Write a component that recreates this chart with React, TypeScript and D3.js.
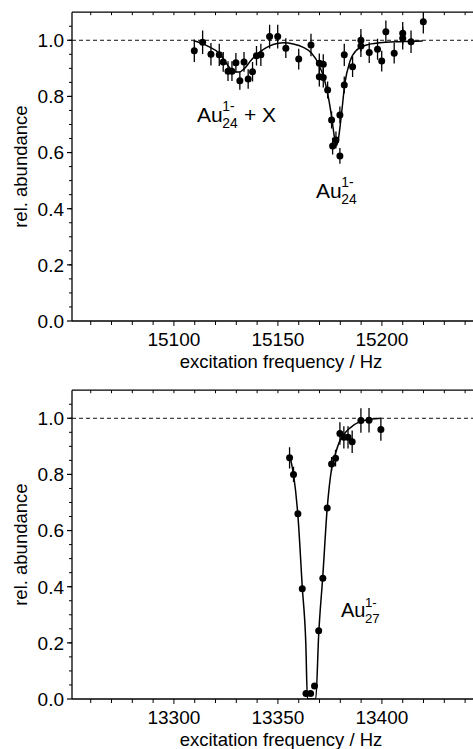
import React from "react";
import * as d3 from "d3";

// ---------- data ----------
// Top panel: Au24(1-)
const topFreq = [
  15109.8, 15113.8, 15117.8, 15121.8, 15123.7, 15126.0, 15127.9, 15129.8, 15131.7, 15133.7,
  15135.7, 15137.8, 15139.7, 15141.8, 15146.0, 15149.9, 15153.8, 15160.0, 15165.9, 15169.9,
  15171.8, 15169.9, 15171.8, 15173.9, 15175.8, 15176.3, 15177.9, 15179.8, 15179.8, 15181.9,
  15181.9, 15185.9, 15189.9, 15189.9, 15193.9, 15197.9, 15199.9, 15201.9, 15205.9, 15210.0,
  15210.0, 15214.0, 15219.9,
];
const topRel = [
  0.963, 0.993, 0.95, 0.948, 0.923, 0.89, 0.89, 0.92, 0.856, 0.923,
  0.862, 0.888, 0.945, 0.948, 1.013, 1.013, 0.972, 0.933, 0.983, 0.918,
  0.915, 0.87, 0.867, 0.823, 0.716, 0.623, 0.645, 0.588, 0.734, 0.841,
  0.948, 0.906, 1.0, 0.98, 0.956, 0.968, 0.926, 1.03, 0.954, 1.025,
  1.007, 0.995, 1.066,
];
const topErr = [
  0.04, 0.042, 0.04, 0.04, 0.035, 0.035, 0.035, 0.035, 0.032, 0.035,
  0.035, 0.035, 0.035, 0.04, 0.042, 0.042, 0.035, 0.037, 0.04, 0.035,
  0.035, 0.035, 0.035, 0.03, 0.03, 0.03, 0.03, 0.028, 0.03, 0.03,
  0.04, 0.037, 0.04, 0.04, 0.037, 0.037, 0.037, 0.04, 0.037, 0.04,
  0.04, 0.04, 0.042,
];
const topFitFreq = [
  15109.6, 15116.0, 15122.0, 15126.5, 15129.0, 15131.5, 15134.0, 15137.0, 15140.0, 15143.8,
  15147.7, 15152.5, 15157.4, 15162.2, 15166.2, 15169.4, 15172.6, 15174.2, 15175.8, 15177.4,
  15178.2, 15179.0, 15180.6, 15182.2, 15184.6, 15187.8, 15192.6, 15199.0, 15208.7, 15219.6,
];
const topFitRel = [
  0.998, 0.98, 0.952, 0.905, 0.888, 0.887, 0.9, 0.928, 0.95, 0.971,
  0.985, 0.991, 0.987, 0.975, 0.954, 0.918, 0.853, 0.799, 0.728, 0.645,
  0.625, 0.645, 0.74, 0.847, 0.924, 0.965, 0.983, 0.991, 0.995, 0.997,
];

// Bottom panel: Au27(1-)
const bottomFreq = [
  13355.6, 13357.5, 13359.6, 13361.7, 13363.5, 13365.7, 13367.6, 13369.6, 13371.6, 13373.7,
  13375.8, 13377.7, 13379.8, 13381.7, 13383.7, 13385.7, 13389.9, 13393.8, 13399.5,
];
const bottomRel = [
  0.859, 0.8, 0.66, 0.393, 0.02, 0.02, 0.046, 0.243, 0.43, 0.68,
  0.837, 0.858, 0.946, 0.932, 0.932, 0.916, 0.992, 0.993, 0.96,
];
const bottomErr = [
  0.038, 0.027, 0.01, 0.01, 0.01, 0.01, 0.01, 0.01, 0.01, 0.01,
  0.025, 0.03, 0.04, 0.04, 0.04, 0.04, 0.044, 0.044, 0.04,
];
const bottomFitFreq = [
  13355.5, 13357.5, 13359.6, 13361.7, 13363.4, 13364.2, 13368.2, 13369.6, 13371.6, 13373.7,
  13375.8, 13377.7, 13379.5, 13382.0, 13384.6, 13389.4, 13395.0, 13399.5,
];
const bottomFitRel = [
  0.87, 0.8, 0.655, 0.4, 0.2, 0.0, 0.0, 0.23, 0.44, 0.68,
  0.82, 0.875, 0.915, 0.945, 0.965, 0.988, 0.997, 1.0,
];

const topXTickLabels = [15100, 15150, 15200];
const bottomXTickLabels = [13300, 13350, 13400];
const yTickLabels = [0.0, 0.2, 0.4, 0.6, 0.8, 1.0];

// ---------- layout ----------
const W = 473;
const H = 749;
const FONT = "'Liberation Sans', Arial, Helvetica, sans-serif";
const PLOT_LEFT = 72;
const PX_PER_HZ = 2.08;
const SPAN_HZ = 200;

type PanelProps = {
  offsetY: number;
  xStart: number;
  xLabels: number[];
  freq: number[];
  rel: number[];
  err: number[];
  fitFreq: number[];
  fitRel: number[];
  id: string;
  children?: React.ReactNode;
};

function Panel({ offsetY, xStart, xLabels, freq, rel, err, fitFreq, fitRel, id, children }: PanelProps) {
  const yTop = 12.2 + offsetY;
  const yBottom = 321 + offsetY;
  const x = d3
    .scaleLinear()
    .domain([xStart, xStart + SPAN_HZ])
    .range([PLOT_LEFT, PLOT_LEFT + SPAN_HZ * PX_PER_HZ]);
  const y = d3.scaleLinear().domain([0, 1.1]).range([yBottom, yTop]);

  const xMinor = x.ticks(20).filter((t) => x(t) > PLOT_LEFT + 1 && x(t) < W);
  const yMinor = d3.range(0, 21).map((i) => i * 0.05 + 0.05);
  const fmt = d3.format(".1f");

  const fit = d3
    .line<number>()
    .x((_, i) => x(fitFreq[i]))
    .y((_, i) => y(fitRel[i]))
    .curve(d3.curveMonotoneX)(fitFreq);

  return (
    <g>
      <defs>
        <clipPath id={id}>
          <rect x={PLOT_LEFT} y={yTop} width={W - PLOT_LEFT} height={yBottom - yTop} />
        </clipPath>
      </defs>
      {/* reference line at 1.0 */}
      <line
        x1={PLOT_LEFT}
        x2={W}
        y1={y(1)}
        y2={y(1)}
        stroke="#111"
        strokeWidth={1}
        strokeDasharray="4,3"
      />
      <g clipPath={`url(#${id})`}>
        <path d={fit || ""} fill="none" stroke="#000" strokeWidth={1.5} />
        {freq.map((f, i) => (
          <line
            key={"e" + i}
            x1={x(f)}
            x2={x(f)}
            y1={y(rel[i] - err[i])}
            y2={y(rel[i] + err[i])}
            stroke="#000"
            strokeWidth={1.3}
          />
        ))}
        {freq.map((f, i) => (
          <circle key={"c" + i} cx={x(f)} cy={y(rel[i])} r={3.5} fill="#000" />
        ))}
      </g>
      {/* axes */}
      <line x1={PLOT_LEFT} x2={PLOT_LEFT} y1={yTop} y2={yBottom} stroke="#000" strokeWidth={1.3} />
      <line x1={PLOT_LEFT} x2={W} y1={yBottom} y2={yBottom} stroke="#000" strokeWidth={1.3} />
      <line x1={PLOT_LEFT} x2={W} y1={yTop} y2={yTop} stroke="#000" strokeWidth={1.3} />
      {xMinor.map((t) => (
        <g key={"xt" + t}>
          <line
            x1={x(t)}
            x2={x(t)}
            y1={yBottom}
            y2={yBottom + (xLabels.includes(t) ? 5 : 4)}
            stroke="#000"
            strokeWidth={1}
          />
          <line x1={x(t)} x2={x(t)} y1={yTop} y2={yTop + 3} stroke="#000" strokeWidth={1} />
        </g>
      ))}
      {xLabels.map((t) => (
        <text
          key={"xl" + t}
          x={x(t)}
          y={yBottom + 25}
          textAnchor="middle"
          fontSize={19}
          fontFamily={FONT}
          fill="#000"
        >
          {t}
        </text>
      ))}
      {yMinor.map((t, i) => (
        <line
          key={"ym" + i}
          x1={PLOT_LEFT - 3}
          x2={PLOT_LEFT}
          y1={y(t)}
          y2={y(t)}
          stroke="#000"
          strokeWidth={1}
        />
      ))}
      {yTickLabels.map((t) => (
        <g key={"yl" + t}>
          <line
            x1={PLOT_LEFT - 5}
            x2={PLOT_LEFT}
            y1={y(t)}
            y2={y(t)}
            stroke="#000"
            strokeWidth={1.2}
          />
          <text
            x={64}
            y={y(t)}
            dy="0.36em"
            textAnchor="end"
            fontSize={19}
            fontFamily={FONT}
            fill="#000"
          >
            {fmt(t)}
          </text>
        </g>
      ))}
      <text
        transform={`translate(27, ${(yTop + yBottom) / 2}) rotate(-90)`}
        textAnchor="middle"
        fontSize={18.5}
        fontFamily={FONT}
        fill="#000"
      >
        rel. abundance
      </text>
      <text
        x={281}
        y={yBottom + 47}
        textAnchor="middle"
        fontSize={18.5}
        fontFamily={FONT}
        fill="#000"
      >
        excitation frequency / Hz
      </text>
      {children}
    </g>
  );
}

function AuLabel({
  x,
  y,
  sub,
  size,
  tail,
  tailX,
}: {
  x: number;
  y: number;
  sub: string;
  size: number;
  tail?: string;
  tailX?: number;
}) {
  const small = size * 0.66;
  const subX = x + size * 1.2;
  return (
    <g fontFamily={FONT} fill="#000">
      <text x={x} y={y} fontSize={size}>
        Au
      </text>
      <text x={subX} y={y - size * 0.52} fontSize={small}>
        1-
      </text>
      <text x={subX} y={y + size * 0.3} fontSize={small}>
        {sub}
      </text>
      {tail ? (
        <text x={tailX} y={y} fontSize={size} style={{ whiteSpace: "pre" }}>
          {tail}
        </text>
      ) : null}
    </g>
  );
}

export default function App() {
  return (
    <div style={{ position: "absolute", left: 0, top: 0 }}>
      <svg width={W} height={H} style={{ display: "block", background: "#fff" }}>
        <Panel
          id="clipTop"
          offsetY={0}
          xStart={15051}
          xLabels={topXTickLabels}
          freq={topFreq}
          rel={topRel}
          err={topErr}
          fitFreq={topFitFreq}
          fitRel={topFitRel}
        >
          <AuLabel x={197} y={122} sub="24" size={21} tail="+ X" tailX={244} />
          <AuLabel x={316} y={198} sub="24" size={21} />
        </Panel>
        <Panel
          id="clipBottom"
          offsetY={378}
          xStart={13251}
          xLabels={bottomXTickLabels}
          freq={bottomFreq}
          rel={bottomRel}
          err={bottomErr}
          fitFreq={bottomFitFreq}
          fitRel={bottomFitRel}
        >
          <AuLabel x={341} y={617} sub="27" size={20} />
        </Panel>
      </svg>
    </div>
  );
}
